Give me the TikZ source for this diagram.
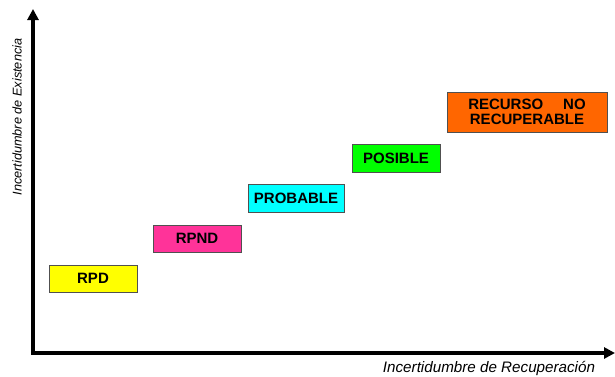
\documentclass[tikz,border=0pt]{standalone}
\usepackage{fontspec}
\setmainfont{Liberation Sans}
\usetikzlibrary{arrows.meta}
\definecolor{cRPD}{HTML}{FFFF00}
\definecolor{cRPND}{HTML}{FF3399}
\definecolor{cProb}{HTML}{00FFFF}
\definecolor{cPos}{HTML}{00FF00}
\definecolor{cNR}{HTML}{FF6600}
\definecolor{edge}{HTML}{505050}
\begin{document}
\begin{tikzpicture}[x=1pt,y=-1pt,
  cat/.style={draw=edge, line width=0.9pt, rectangle, inner sep=0pt, align=center,
    font=\fontsize{15}{16}\selectfont\bfseries},
  axis/.style={line width=3.5pt, {Triangle[length=11pt,width=11pt]}-{Triangle[length=11pt,width=11pt]}},
  axlabel/.style={font=\itshape, inner sep=0pt}]
\useasboundingbox (0,0) rectangle (615,376);
% axes
\coordinate (O) at (33,353);
\coordinate (Y) at (33,9);
\coordinate (X) at (615,353);
\draw[axis] (Y) -- (O) -- (X);
\node[axlabel, font=\fontsize{12.7}{14}\selectfont\itshape, rotate=90] (ylab) at (17,117) {Incertidumbre de Existencia};
\node[axlabel, font=\fontsize{15.2}{17}\selectfont\itshape] (xlab) at (489,368) {Incertidumbre de Recuperación};
% categories
\node[cat, fill=cRPD, minimum width=88pt, minimum height=27pt] (rpd) at (93,278.5) {RPD};
\node[cat, fill=cRPND, minimum width=88pt, minimum height=27pt] (rpnd) at (197,238.5) {RPND};
\node[cat, fill=cProb, minimum width=96pt, minimum height=28pt] (prob) at (296,198) {PROBABLE};
\node[cat, fill=cPos, minimum width=88pt, minimum height=28pt] (pos) at (396,158) {POSIBLE};
\node[cat, fill=cNR, minimum width=160pt, minimum height=40pt] (nr) at (527,112) {RECURSO\hspace{20pt}NO\\[-1pt]RECUPERABLE};
\end{tikzpicture}
\end{document}
